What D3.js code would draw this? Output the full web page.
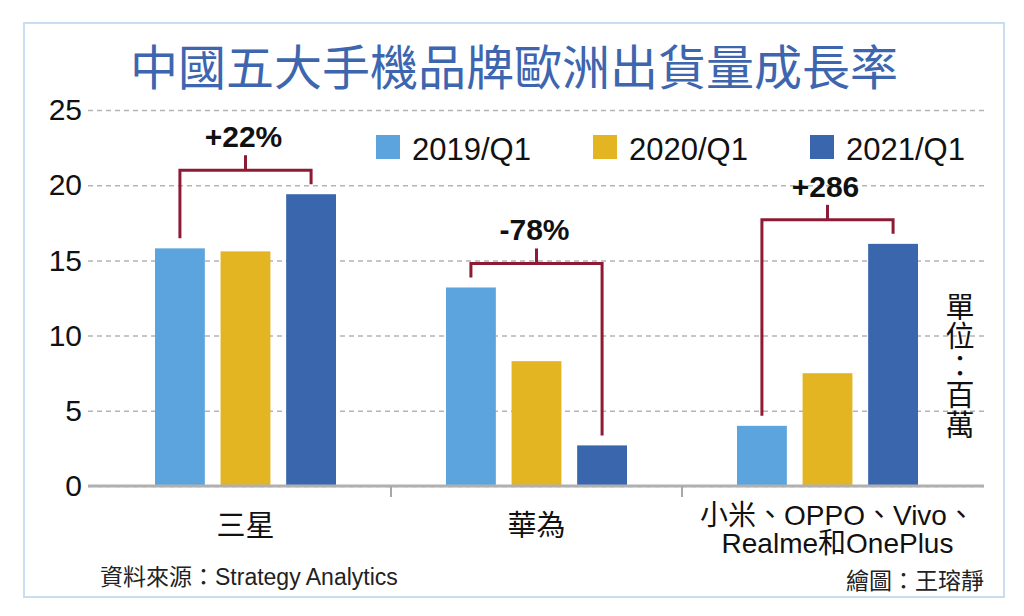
<!DOCTYPE html>
<html>
<head>
<meta charset="utf-8">
<script src="https://cdn.jsdelivr.net/npm/d3@7"></script>
<style>
  html, body { margin: 0; padding: 0; background: #fff; }
  svg { display: block; }
</style>
</head>
<body>
<svg id="chart" width="1024" height="616"></svg>
<script>
// 資料：單位 百萬
const categories = ["三星", "華為", "其他"];
const categoryLines = [["三星"], ["華為"], ["小米、OPPO、Vivo、", "Realme和OnePlus"]];
const series = ["2019/Q1", "2020/Q1", "2021/Q1"];
const values2019 = [15.8, 13.2, 4.0];
const values2020 = [15.6, 8.3, 7.5];
const values2021 = [19.4, 2.7, 16.1];
const growthLabels = ["+22%", "-78%", "+286"];
const yTicks = [0, 5, 10, 15, 20, 25];
const unitLabel = "單位：百萬";

const colors = ["#5ba4de", "#e3b522", "#3a66ae"];
const bracketColor = "#8e1b36";
const latin = "'Liberation Sans', 'Noto Sans CJK TC', sans-serif";
const cjk = "'Noto Sans CJK TC', 'Liberation Sans', sans-serif";

const rows = categories.map((c, i) => ({
  cat: c,
  vals: [values2019[i], values2020[i], values2021[i]]
}));

const svg = d3.select("#chart");

// 外框
svg.append("rect")
  .attr("x", 24).attr("y", 23)
  .attr("width", 980).attr("height", 574)
  .attr("fill", "#fff")
  .attr("stroke", "#c9ddf0")
  .attr("stroke-width", 2);

// 標題
svg.append("text")
  .attr("x", 514).attr("y", 85)
  .attr("text-anchor", "middle")
  .attr("font-family", cjk)
  .attr("font-size", 48)
  .attr("font-weight", 400)
  .attr("fill", "#3d66ae")
  .text("中國五大手機品牌歐洲出貨量成長率");

const left = 88, right = 984;
const y = d3.scaleLinear().domain([0, 25]).range([486, 110]);
const x0 = d3.scaleBand().domain(categories).range([100, 973])
  .paddingInner(0.378).paddingOuter(0.189);
const x1 = d3.scaleBand().domain(series).range([0, x0.bandwidth()])
  .paddingInner(0.24);

// 格線 + y軸文字
const yAxis = svg.append("g")
  .attr("transform", `translate(${left},0)`)
  .call(d3.axisLeft(y).tickValues(yTicks).tickSize(-(right - left)).tickPadding(6));
yAxis.select(".domain").remove();
yAxis.selectAll(".tick line")
  .attr("stroke", "#b4b4b4")
  .attr("stroke-width", 1.5)
  .attr("stroke-dasharray", "5,4");
yAxis.selectAll(".tick text")
  .attr("font-family", latin)
  .attr("font-size", 30)
  .attr("fill", "#111");

// 長條
const groups = svg.append("g").selectAll("g")
  .data(rows)
  .join("g")
  .attr("transform", d => `translate(${x0(d.cat)},0)`);

groups.selectAll("rect")
  .data(d => d.vals.map((v, i) => ({ key: series[i], v, i })))
  .join("rect")
  .attr("x", d => x1(d.key))
  .attr("y", d => y(d.v))
  .attr("width", x1.bandwidth())
  .attr("height", d => y(0) - y(d.v))
  .attr("fill", d => colors[d.i]);

// 0 線與分隔刻度
svg.append("line")
  .attr("x1", left).attr("x2", right)
  .attr("y1", y(0)).attr("y2", y(0))
  .attr("stroke", "#b0b0b0")
  .attr("stroke-width", 3);

const gap = x0.step() - x0.bandwidth();
svg.append("g").selectAll("line")
  .data(categories.slice(0, -1))
  .join("line")
  .attr("x1", d => x0(d) + x0.bandwidth() + gap / 2)
  .attr("x2", d => x0(d) + x0.bandwidth() + gap / 2)
  .attr("y1", y(0)).attr("y2", y(0) + 11)
  .attr("stroke", "#a8a8a8")
  .attr("stroke-width", 2);

// 類別標籤
const catLabels = svg.append("g").selectAll("text")
  .data(rows)
  .join("text")
  .attr("text-anchor", "middle")
  .attr("font-family", latin)
  .attr("fill", "#111")
  .attr("font-size", (d, i) => categoryLines[i].length > 1 ? 28 : 29)
  .attr("x", d => x0(d.cat) + x0.bandwidth() / 2)
  .attr("y", (d, i) => categoryLines[i].length > 1 ? 525 : 536);
catLabels.each(function (d, i) {
  const t = d3.select(this);
  categoryLines[i].forEach((line, k) => {
    t.append("tspan")
      .attr("x", x0(d.cat) + x0.bandwidth() / 2 + (categoryLines[i].length > 1 ? 10 : 0))
      .attr("dy", k === 0 ? 0 : 28)
      .text(line);
  });
});

// 成長率括號（2019 對 2021）
const br = svg.append("g")
  .attr("fill", "none")
  .attr("stroke", bracketColor)
  .attr("stroke-width", 3);
rows.forEach((d, i) => {
  const xa = x0(d.cat) + x1(series[0]) + x1.bandwidth() / 2;
  const xb = x0(d.cat) + x1(series[2]) + x1.bandwidth() / 2;
  const ya = y(d.vals[0]) - 10;
  const yb = y(d.vals[2]) - 10;
  const top = y(Math.max(d.vals[0], d.vals[2])) - 24;
  const xm = x0(d.cat) + x1(series[1]) + x1.bandwidth() / 2;
  br.append("path")
    .attr("d", `M${xa},${ya}V${top}H${xb}V${yb}`);
  br.append("path")
    .attr("d", `M${xm},${top}V${top - 15}`);
  svg.append("text")
    .attr("x", xm - 2)
    .attr("y", top - 23)
    .attr("text-anchor", "middle")
    .attr("font-family", latin)
    .attr("font-size", 30)
    .attr("font-weight", 700)
    .attr("fill", "#111")
    .text(growthLabels[i]);
});

// 圖例
const legend = svg.append("g").selectAll("g")
  .data(series)
  .join("g")
  .attr("transform", (d, i) => `translate(${376 + i * 217},135)`);
legend.append("rect")
  .attr("width", 24).attr("height", 24)
  .attr("fill", (d, i) => colors[i]);
legend.append("text")
  .attr("x", 36).attr("y", 25)
  .attr("font-family", latin)
  .attr("font-size", 31)
  .attr("fill", "#111")
  .text(d => d);

// 單位（直排）
svg.append("text")
  .attr("x", 960)
  .attr("y", 292)
  .style("writing-mode", "vertical-rl")
  .attr("font-family", cjk)
  .attr("font-size", 29)
  .attr("letter-spacing", 0.5)
  .attr("fill", "#111")
  .text(unitLabel);

// 來源與繪圖
svg.append("text")
  .attr("x", 100).attr("y", 585)
  .attr("font-family", latin)
  .attr("font-size", 23)
  .attr("fill", "#222")
  .text("資料來源：Strategy Analytics");
svg.append("text")
  .attr("x", 984).attr("y", 589)
  .attr("text-anchor", "end")
  .attr("font-family", cjk)
  .attr("font-size", 23)
  .attr("fill", "#222")
  .text("繪圖：王瑢靜");
</script>
</body>
</html>
